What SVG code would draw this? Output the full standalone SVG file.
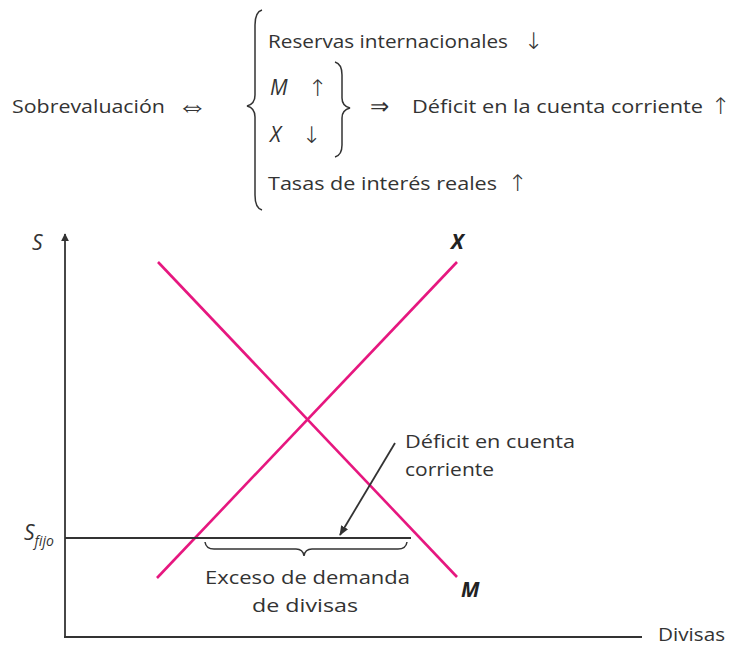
<svg xmlns="http://www.w3.org/2000/svg" width="730" height="646" viewBox="0 0 730 646">
<defs>
<style>
text{font-family:"Open Sans","Liberation Sans",sans-serif;font-size:19px;fill:#333333}
.sym{font-family:"DejaVu Sans",sans-serif;font-size:23px;font-weight:200}
.it{font-style:italic}
.bi{font-style:italic;font-weight:bold;fill:#222222;font-size:21px}
.ln{stroke:#333333;stroke-width:1.8;fill:none}
.pk{stroke:#e6177f;stroke-width:2.6;fill:none}
.br{stroke:#333333;stroke-width:1.5;fill:none}
</style>
<marker id="ah" viewBox="0 0 10 10" refX="9" refY="5" markerWidth="8" markerHeight="8" markerUnits="userSpaceOnUse" orient="auto"><path d="M0,0 L10,5 L0,10 z" fill="#333333"/></marker>
<marker id="ah2" viewBox="0 0 10 10" refX="9" refY="5" markerWidth="10" markerHeight="10" markerUnits="userSpaceOnUse" orient="auto"><path d="M0,1 L10,5 L0,9 z" fill="#333333"/></marker>
</defs>
<g id="summary">
<text x="12" y="113" textLength="153" lengthAdjust="spacingAndGlyphs">Sobrevaluación</text>
<text class="sym" x="177" y="116" style="font-size:31px">⇔</text>
<path class="br" d="M262,10 Q255,12 255,25 L255,95 Q255,104 247,106 Q255,108 255,117 L255,195 Q255,208 262,210"/>
<text x="268" y="48" textLength="240" lengthAdjust="spacingAndGlyphs">Reservas internacionales</text>
<text class="sym" x="524" y="49">↓</text>
<text class="it" x="270" y="95" style="font-size:21px">M</text>
<text class="sym" x="308" y="96">↑</text>
<text class="it" x="270" y="142" style="font-size:21px">X</text>
<text class="sym" x="302" y="143">↓</text>
<text x="268" y="190" textLength="229" lengthAdjust="spacingAndGlyphs">Tasas de interés reales</text>
<text class="sym" x="508" y="191">↑</text>
<path class="br" d="M335,62 Q342,64 342,75 L342,98 Q342,106 350,108 Q342,110 342,118 L342,145 Q342,155 335,157"/>
<text class="sym" x="370" y="114">⇒</text>
<text x="412" y="113" textLength="291" lengthAdjust="spacingAndGlyphs">Déficit en la cuenta corriente</text>
<text class="sym" x="711" y="114">↑</text>
</g>
<g id="axes">
<line class="ln" x1="65" y1="637" x2="65" y2="234" marker-end="url(#ah)"/>
<line class="ln" x1="64" y1="637" x2="642" y2="637"/>
<text class="it" x="32" y="250" style="font-size:21px">S</text>
<text x="658" y="641" textLength="67" lengthAdjust="spacingAndGlyphs">Divisas</text>
</g>
<g id="curve-X">
<line class="pk" x1="157" y1="578" x2="457" y2="262"/>
<text class="bi" x="451" y="249">X</text>
</g>
<g id="curve-M">
<line class="pk" x1="158" y1="262" x2="457" y2="577"/>
<text class="bi" x="461" y="597">M</text>
</g>
<g id="sfijo">
<line class="ln" x1="65" y1="538" x2="411" y2="538"/>
<text class="it" x="24" y="540" style="font-size:21px">S<tspan style="font-size:14px" dy="6">fijo</tspan></text>
</g>
<g id="excess">
<path class="br" d="M205,542 Q206,549 214,549 L296,549 Q303,549 304,556 Q305,549 312,549 L398,549 Q406,549 407,542"/>
<text x="205" y="584" textLength="205" lengthAdjust="spacingAndGlyphs">Exceso de demanda</text>
<text x="252" y="612" textLength="106" lengthAdjust="spacingAndGlyphs">de divisas</text>
</g>
<g id="deficit-label">
<text x="405" y="448" textLength="170" lengthAdjust="spacingAndGlyphs">Déficit en cuenta</text>
<text x="405" y="476" textLength="89" lengthAdjust="spacingAndGlyphs">corriente</text>
</g>
<g id="connectors">
<line class="ln" x1="395" y1="443" x2="340" y2="535" stroke-width="1.5" marker-end="url(#ah2)"/>
</g>
</svg>
